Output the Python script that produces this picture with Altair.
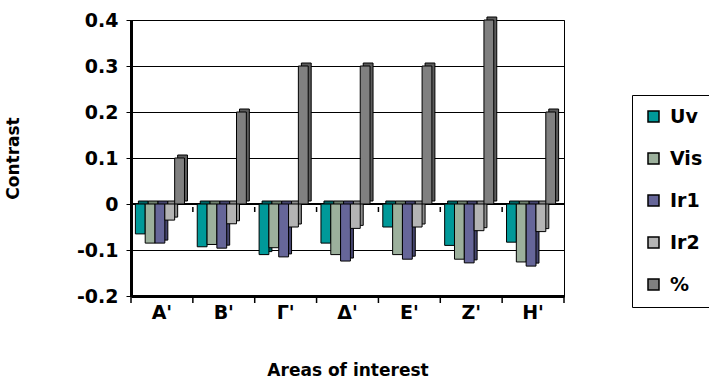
import altair as alt
import pandas as pd

# Areas of interest (Greek capitals) and the five measured series
areas = ["Α'", "Β'", "Γ'", "Δ'", "Ε'", "Ζ'", "Η'"]
series = ["Uv", "Vis", "Ir1", "Ir2", "%"]

uv = [-0.065, -0.093, -0.110, -0.085, -0.050, -0.090, -0.083]
vis = [-0.085, -0.088, -0.095, -0.110, -0.110, -0.120, -0.126]
ir1 = [-0.085, -0.096, -0.115, -0.124, -0.120, -0.128, -0.135]
ir2 = [-0.035, -0.043, -0.050, -0.053, -0.050, -0.058, -0.060]
pct = [0.1, 0.2, 0.3, 0.3, 0.3, 0.4, 0.2]

front_colors = ["#009999", "#9cb09c", "#666699", "#b4b4b4", "#808080"]
side_colors = ["#006666", "#6e806e", "#45456e", "#8c8c8c", "#5c5c5c"]

FONT = "DejaVu Sans"

rows = []
for name, vals in zip(series, [uv, vis, ir1, ir2, pct]):
    for area, v in zip(areas, vals):
        rows.append({"area": area, "series": name, "value": v})
df = pd.DataFrame(rows)

W, H = 433, 276
BAND = W / len(areas)
DEPTH = 3

x_enc = alt.X(
    "area:N",
    sort=areas,
    scale=alt.Scale(paddingInner=0, paddingOuter=0),
    axis=alt.Axis(
        title="Areas of interest",
        titleFont=FONT,
        titleFontSize=17,
        titleFontWeight="bold",
        titleColor="black",
        titleBaseline="alphabetic",
        titleY=79,
        labelFont=FONT,
        labelFontSize=19,
        labelFontWeight="bold",
        labelColor="black",
        labelAngle=0,
        labelPadding=7,
        ticks=False,
        domainColor="black",
        domainWidth=3,
        grid=False,
    ),
)


def xoff(shift):
    # position of each series inside its area, nudged sideways by `shift` px
    return alt.XOffset(
        "series:N",
        sort=series,
        scale=alt.Scale(
            domain=series,
            paddingInner=0,
            paddingOuter=0.65,
            range=[shift, BAND + shift],
        ),
    )


y_scale = alt.Scale(domain=[-0.2, 0.4], nice=False, zero=False)
y_enc = alt.Y(
    "value:Q",
    scale=y_scale,
    axis=alt.Axis(
        title="Contrast",
        titleFont=FONT,
        titleFontSize=17,
        titleFontWeight="bold",
        titleColor="black",
        titleX=-109,
        titleY=H / 2,
        titleAlign="center",
        titleBaseline="bottom",
        values=[-0.2, -0.1, 0, 0.1, 0.2, 0.3, 0.4],
        labelExpr="datum.value == 0 ? '0' : (datum.value < 0 ? '-' + format(-datum.value, '.1f') : format(datum.value, '.1f'))",
        labelFont=FONT,
        labelFontSize=19,
        labelFontWeight="bold",
        labelColor="black",
        labelPadding=8,
        tickSize=5,
        tickColor="black",
        tickWidth=1,
        domainColor="black",
        domainWidth=3,
        grid=True,
        gridColor="black",
        gridWidth=1,
    ),
)

base = alt.Chart(df)

# Side/top faces, shifted up and right to give the columns some depth
side = base.mark_bar(
    stroke="black", strokeWidth=1, yOffset=-DEPTH, y2Offset=0
).encode(
    x=x_enc,
    xOffset=xoff(1),
    y=y_enc,
    fill=alt.Fill(
        "series:N", sort=series,
        scale=alt.Scale(domain=series, range=side_colors), legend=None
    ),
)

# Front faces
front = base.mark_bar(stroke="black", strokeWidth=1).encode(
    x=x_enc,
    xOffset=xoff(1 - DEPTH),
    y=y_enc,
    color=alt.Color(
        "series:N",
        sort=series,
        scale=alt.Scale(domain=series, range=front_colors),
        legend=alt.Legend(
            title=None,
            orient="none",
            legendX=501,
            legendY=75,
            symbolType="square",
            symbolSize=121,
            symbolStrokeColor="black",
            symbolStrokeWidth=1.5,
            labelFont=FONT,
            labelFontSize=19,
            labelFontWeight="bold",
            labelColor="black",
            labelOffset=7,
            rowPadding=22,
            padding=12,
            strokeColor="black",
            fillColor="white",
        ),
    ),
)

# Zero line across the plot
zero = base.mark_rule(color="black", strokeWidth=2).encode(
    y=alt.datum(0, scale=y_scale)
)

cats = pd.DataFrame({"area": areas})
tick_x = alt.X("area:N", sort=areas, bandPosition=0)
tick_x_end = alt.X("area:N", sort=areas, bandPosition=1)

# Category separator ticks under the bottom axis and under the zero line
bottom_ticks = alt.Chart(cats).mark_rule(color="black", strokeWidth=1.5).encode(
    x=tick_x, y=alt.value(H), y2=alt.value(H + 7)
)
bottom_tick_end = alt.Chart(cats).transform_filter(
    alt.datum.area == areas[-1]
).mark_rule(color="black", strokeWidth=1.5).encode(
    x=tick_x_end, y=alt.value(H), y2=alt.value(H + 7)
)
zero_ticks = alt.Chart(cats).mark_rule(color="black", strokeWidth=1.5).encode(
    x=tick_x,
    y=alt.value(H * 2 / 3 + 3),
    y2=alt.value(H * 2 / 3 + 8),
)

chart = (
    alt.layer(zero, side, front, bottom_ticks, bottom_tick_end, zero_ticks)
    .resolve_scale(color="independent", fill="independent", xOffset="independent")
    .properties(
        width=W,
        height=H,
        autosize=alt.AutoSizeParams(type="none"),
        padding={"left": 131, "top": 20, "right": 145, "bottom": 84},
        background="white",
    )
    .configure_view(stroke="black", strokeWidth=1)
)

chart.save("out.html", embed_options={"renderer": "svg", "actions": False})
